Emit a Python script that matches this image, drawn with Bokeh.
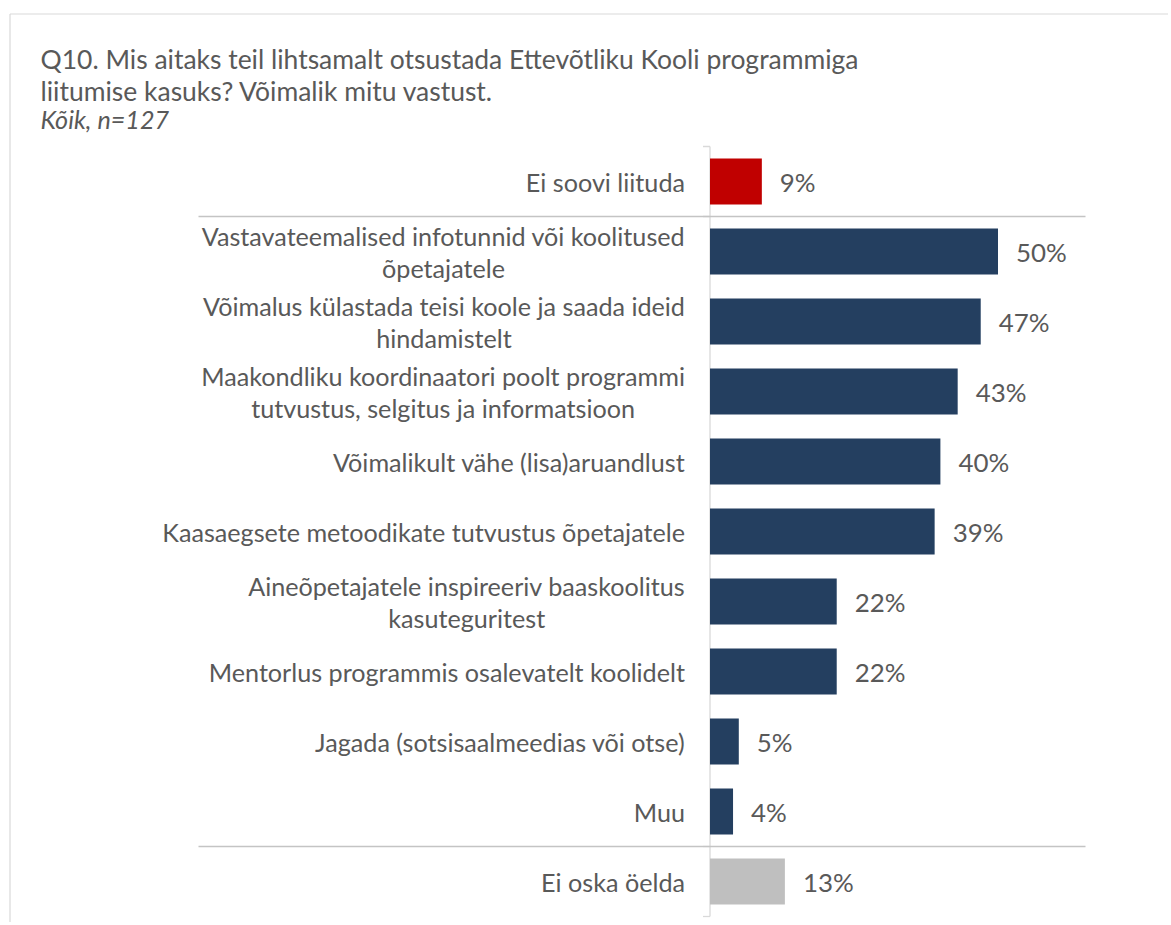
import os, glob, subprocess
from bokeh.plotting import figure
from bokeh.models import ColumnDataSource, Range1d
from bokeh.core.properties import value
from bokeh.embed import file_html
from bokeh.resources import INLINE

# ---------------- data ----------------
title_lines = ["Q10. Mis aitaks teil lihtsamalt otsustada Ettevõtliku Kooli programmiga",
               "liitumise kasuks? Võimalik mitu vastust."]
subtitle = "Kõik, n=127"
categories = [
    "Ei soovi liituda",
    "Vastavateemalised infotunnid või koolitused\nõpetajatele",
    "Võimalus külastada teisi koole ja saada ideid\nhindamistelt",
    "Maakondliku koordinaatori poolt programmi\ntutvustus, selgitus ja informatsioon",
    "Võimalikult vähe (lisa)aruandlust",
    "Kaasaegsete metoodikate tutvustus õpetajatele",
    "Aineõpetajatele inspireeriv baaskoolitus\nkasuteguritest",
    "Mentorlus programmis osalevatelt koolidelt",
    "Jagada (sotsisaalmeedias või otse)",
    "Muu",
    "Ei oska öelda",
]
values = [9, 50, 47, 43, 40, 39, 22, 22, 5, 4, 13]
groups = ["no", "yes", "yes", "yes", "yes", "yes", "yes", "yes", "yes", "yes", "dk"]
group_colors = {"no": "#C00000", "yes": "#243F60", "dk": "#BFBFBF"}

# ---------------- layout / style ----------------
W, H = 1168, 922
PAGE = 0
X0_PAGE = 709.5
PX_PER_PCT = 5.76
ROW0_PAGE = 181.0
ROW_PX = 70.0
TEXT_COLOR = "#595959"
FONT = "Lato"


def dx(px):
    return (px - X0_PAGE) / PX_PER_PCT


def dy(py):
    return (py - ROW0_PAGE) / ROW_PX


def find_font(family, style="Regular"):
    try:
        out = subprocess.run(["fc-match", "-f", "%{file}", f"{family}:style={style}"],
                             capture_output=True, text=True, timeout=5).stdout.strip()
        if out and os.path.exists(out) and family.lower() in os.path.basename(out).lower():
            return out
    except Exception:
        pass
    for base in ["/usr/share/fonts", "/usr/local/share/fonts", os.path.expanduser("~/.fonts")]:
        hits = glob.glob(os.path.join(base, "**", f"{family}-{style}.ttf"), recursive=True)
        if hits:
            return hits[0]
    return None


_fp = find_font(FONT)
_font = None
try:
    from PIL import ImageFont
    if _fp:
        _font = ImageFont.truetype(_fp, 100)
except Exception:
    _font = None


def em_width(text):
    if _font is not None:
        return _font.getlength(text) / 100.0
    return 0.49 * len(text)


# font sizes chosen so reference strings span the same widths as in the source
LABEL_SIZE = 483.0 / em_width("Vastavateemalised infotunnid või koolitused")
LABEL_SIZE = max(20.0, min(LABEL_SIZE, 30.0))
TITLE_SIZE = 818.0 / em_width(title_lines[0])
TITLE_SIZE = max(20.0, min(TITLE_SIZE, 32.0))
VALUE_SIZE = LABEL_SIZE * 1.03
LINE_PX = 32.0
GAP_PX = 25.0

p = figure(width=W, height=H, output_backend="svg", toolbar_location=None,
           x_axis_location=None, y_axis_location=None, min_border=0,
           x_range=Range1d(dx(PAGE), dx(PAGE + W)),
           y_range=Range1d(dy(PAGE + H), dy(PAGE)))
p.xgrid.visible = False
p.ygrid.visible = False
p.outline_line_color = None
p.background_fill_color = "white"
p.border_fill_color = "white"

ys = list(range(len(categories)))

# chart border (top and left edges visible)
p.segment(x0=[dx(9.5), dx(9.5)], y0=[dy(13.5), dy(13.5)],
          x1=[dx(1300), dx(9.5)], y1=[dy(13.5), dy(1000)],
          line_color="#D9D9D9", line_width=1.2)

# group boundaries
bounds = [ys[0] - 0.5]
for i in range(1, len(groups)):
    if groups[i] != groups[i - 1]:
        bounds.append(ys[i] - 0.5)
bounds.append(ys[-1] + 0.5)

# vertical axis segments and end ticks
p.segment(x0=[0] * (len(bounds) - 1), y0=bounds[:-1], x1=[0] * (len(bounds) - 1), y1=bounds[1:],
          line_color="#D9D9D9", line_width=1.3)
p.segment(x0=[-7 / PX_PER_PCT] * len(bounds), y0=bounds, x1=[0] * len(bounds), y1=bounds,
          line_color="#D9D9D9", line_width=1.3)

# separators between groups
inner = bounds[1:-1]
p.segment(x0=[dx(198)] * len(inner), y0=inner, x1=[dx(1085)] * len(inner), y1=inner,
          line_color="#C4C4C4", line_width=1.6)

# bars
src = ColumnDataSource(dict(y=ys, value=values,
                            color=[group_colors[g] for g in groups],
                            label=[f"{v}%" for v in values]))
p.hbar(y="y", left=0, right="value", height=46.0 / ROW_PX, fill_color="color",
       line_color=None, source=src)

# value labels
p.text(x="value", y="y", text="label", source=src, x_offset=18,
       text_align="left", text_baseline="middle", text_color=TEXT_COLOR,
       text_font=value(FONT), text_font_size=f"{VALUE_SIZE:.2f}px")

# category labels: block right-aligned, lines centred within block
lx, ly, lt = [], [], []
for i, cat in zip(ys, categories):
    lines = cat.split("\n")
    block = max(em_width(t) for t in lines) * LABEL_SIZE
    cx = -(GAP_PX + block / 2.0) / PX_PER_PCT
    n = len(lines)
    for k, t in enumerate(lines):
        lx.append(cx)
        ly.append(i + (k - (n - 1) / 2.0) * LINE_PX / ROW_PX)
        lt.append(t)
p.text(x=lx, y=ly, text=lt, text_align="center", text_baseline="middle",
       text_color=TEXT_COLOR, text_font=value(FONT), text_font_size=f"{LABEL_SIZE:.2f}px")

# title and subtitle
p.text(x=[dx(40)] * 2, y=[dy(58), dy(90)], text=title_lines, text_align="left",
       text_baseline="middle", text_color=TEXT_COLOR, text_font=value(FONT),
       text_font_size=f"{TITLE_SIZE:.2f}px")
p.text(x=[dx(40)], y=[dy(118)], text=[subtitle], text_align="left",
       text_baseline="middle", text_color=TEXT_COLOR, text_font=value(FONT),
       text_font_style="italic", text_font_size=f"{LABEL_SIZE:.2f}px")

open("out.html", "w").write(file_html(p, INLINE))
